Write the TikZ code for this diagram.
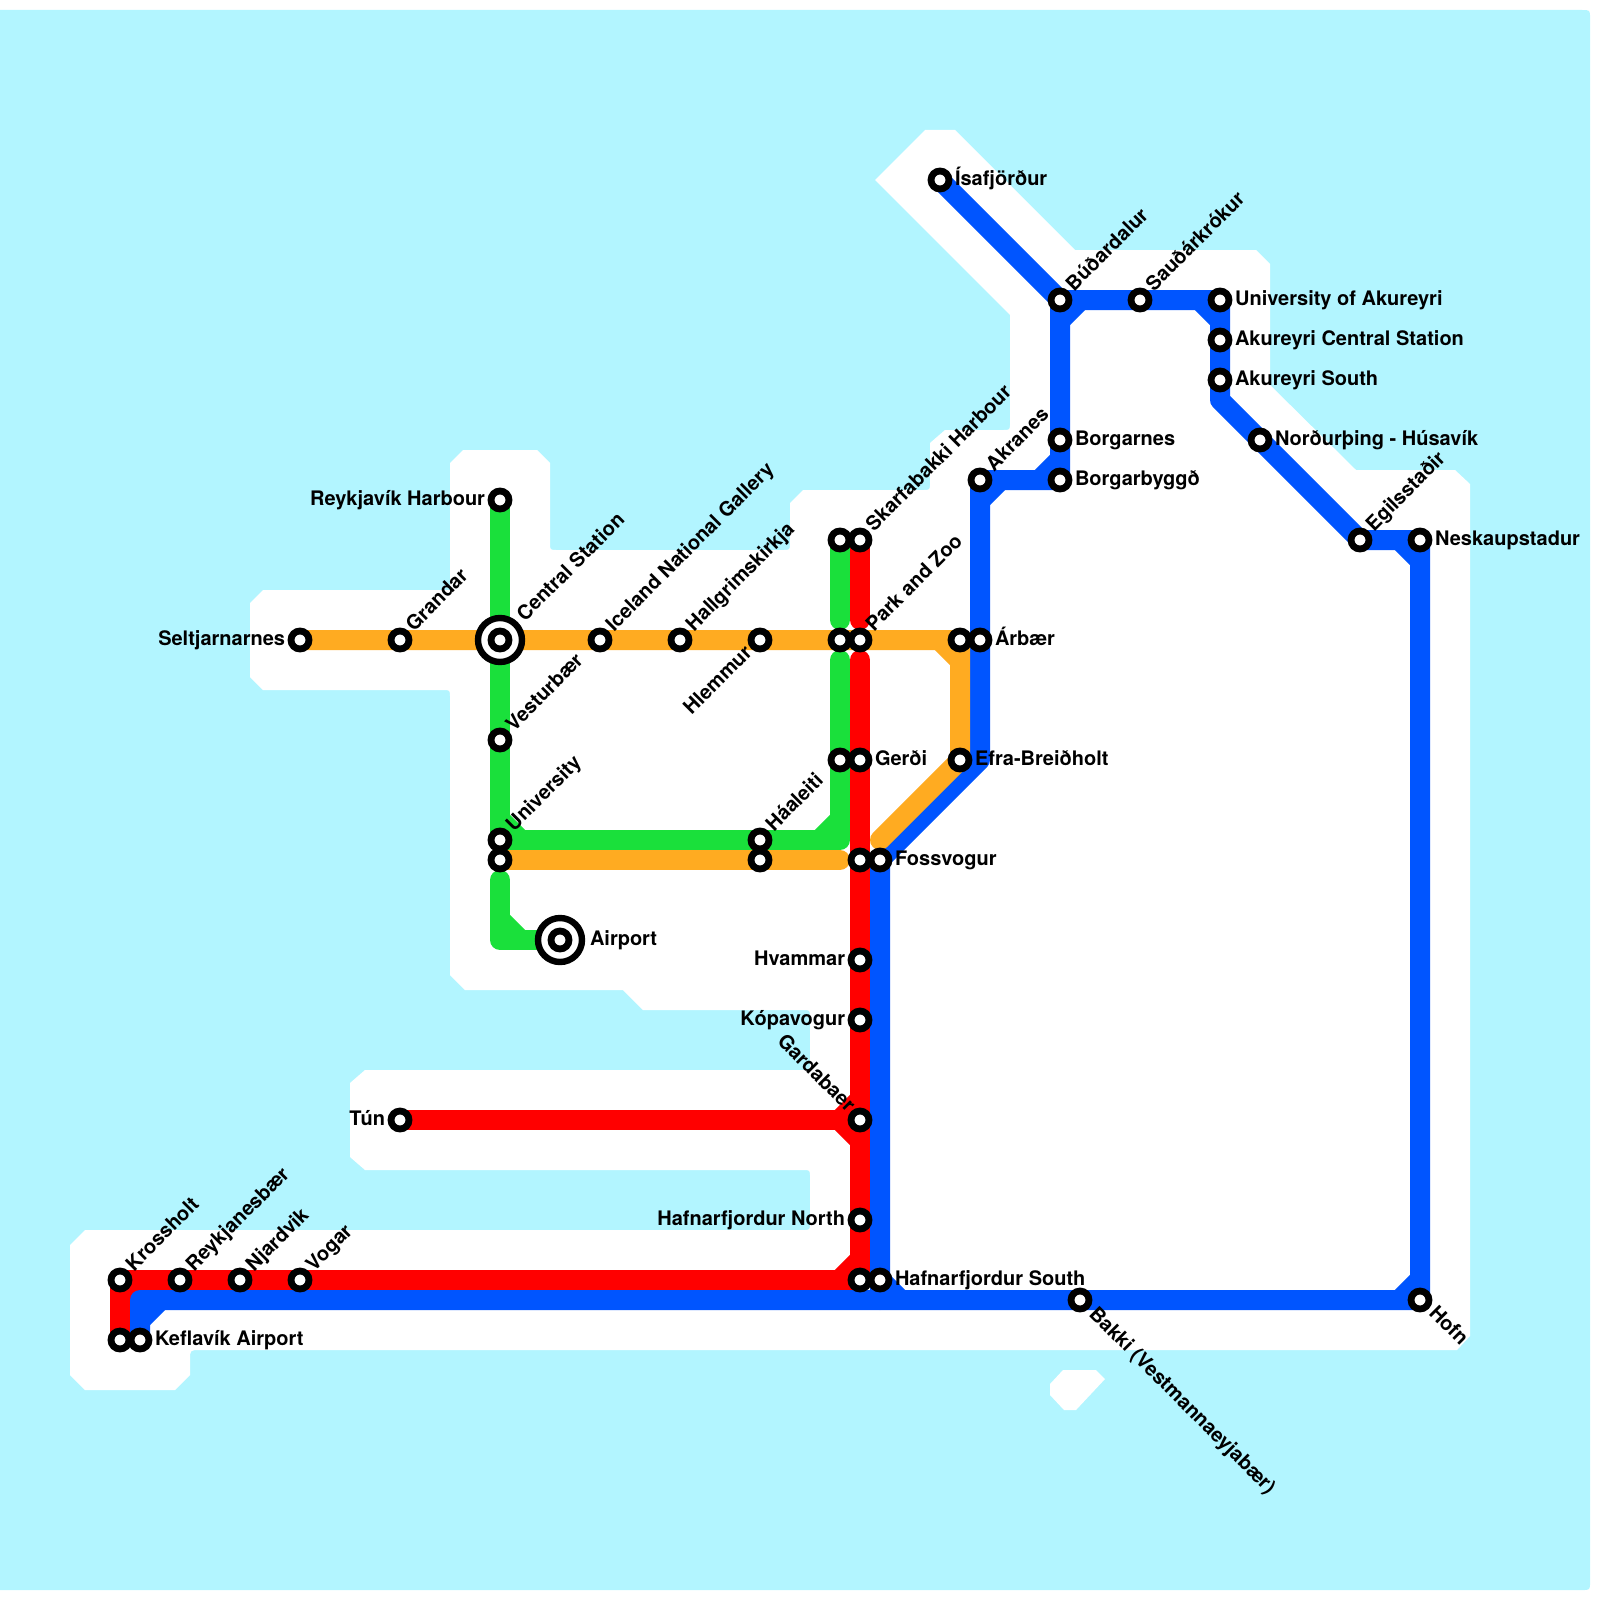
\documentclass[tikz,border=0pt]{standalone}
\usepackage{fontspec}
\setmainfont{TeX Gyre Heros}
\usetikzlibrary{calc}
\definecolor{sea}{HTML}{B2F5FF}
\definecolor{lred}{HTML}{FF0000}
\definecolor{lblue}{HTML}{0055FF}
\definecolor{lgreen}{HTML}{1AE03B}
\definecolor{lorange}{HTML}{FFAB21}
\pgfdeclarelayer{base}
\pgfdeclarelayer{lines}
\pgfsetlayers{base,lines,main}
\newcommand{\chord}[4]{\draw[metro,#4,line cap=butt] ($(#2)!10.5pt!(#1)$) -- ($(#2)!10.5pt!(#3)$);}
\newcommand{\cnr}[2]{.. controls (#1) .. (#2)}
\tikzset{
  metro/.style={line width=10pt,line cap=round,line join=round},
  stn/.style={circle,draw=black,fill=white,line width=3.4pt,minimum size=9pt,inner sep=0pt,outer sep=0pt},
  hub/.style={circle,draw=black,fill=white,line width=3.2pt,minimum size=22pt,inner sep=0pt,outer sep=0pt},
  lab/.style={font=\bfseries\fontsize{10}{12}\selectfont,inner sep=0pt,outer sep=0pt,text=black},
  labE/.style={lab,anchor=base west},
  labW/.style={lab,anchor=base east},
  labNE/.style={lab,anchor=base west,rotate=45},
  labSE/.style={lab,anchor=base west,rotate=-45},
  labNW/.style={lab,anchor=base east,rotate=-45},
  labSW/.style={lab,anchor=base east,rotate=45},
}
\begin{document}
\begin{tikzpicture}[x=0.5pt,y=-0.5pt]
\useasboundingbox (0,0) rectangle (1600,1600);
% interchange rings
\node[hub] (hubcen) at (500,640) {};
\node[hub] (hubair) at (560,940) {};
% stations
\foreach \n/\x/\y in {
  kro/120/1280,rey/180/1280,nja/240/1280,vog/300/1280,
  kefa/120/1340,kefb/140/1340,
  haf/860/1280,hafs/880/1280,bak/1080/1300,hof/1420/1300,
  nes/1420/540,egi/1360/540,nor/1260/440,
  aks/1220/380,akc/1220/340,aku/1220/300,sau/1140/300,bud/1060/300,isa/940/180,
  bgn/1060/440,bgb/1060/480,akr/980/480,
  arb/980/640,arbw/960/640,efr/960/760,
  fosw/860/860,fos/880/860,gerw/840/760,ger/860/760,
  parw/840/640,par/860/640,skaw/840/540,ska/860/540,
  hle/760/640,hal/680/640,ice/600/640,cen/500/640,gra/400/640,sel/300/640,
  har/500/500,ves/500/740,uni/500/840,unis/500/860,
  haa/760/840,haas/760/860,air/560/940,
  hva/860/960,kop/860/1020,gar/860/1120,hfn/860/1220,tun/400/1120}
  {\node[stn] (\n) at (\x,\y) {};}
% labels
\foreach \n/\t in {
  kefb/{Keflavík Airport},hafs/{Hafnarfjordur South},fos/{Fossvogur},ger/{Gerði},
  efr/{Efra-Breiðholt},arb/{Árbær},bgn/{Borgarnes},bgb/{Borgarbyggð},
  aku/{University of Akureyri},akc/{Akureyri Central Station},aks/{Akureyri South},
  nor/{Norðurþing - Húsavík},nes/{Neskaupstadur},isa/{Ísafjörður}}
  {\node[labE] (l\n) at ($(\n.center)+(15,5)$) {\t};}
\node[labE] (lair) at ($(air.center)+(30,5)$) {Airport};
\foreach \n/\t in {
  har/{Reykjavík Harbour},sel/{Seltjarnarnes},tun/{Tún},hva/{Hvammar},
  kop/{Kópavogur},hfn/{Hafnarfjordur North}}
  {\node[labW] (l\n) at ($(\n.center)+(-15,5)$) {\t};}
\foreach \n/\t in {
  kro/{Krossholt},rey/{Reykjanesbær},nja/{Njardvik},vog/{Vogar},gra/{Grandar},
  ice/{Iceland National Gallery},hal/{Hallgrimskirkja},ves/{Vesturbær},uni/{University},
  haa/{Háaleiti},ska/{Skarfabakki Harbour},par/{Park and Zoo},akr/{Akranes},
  bud/{Búðardalur},sau/{Sauðárkrókur},egi/{Egilsstaðir}}
  {\node[labNE] (l\n) at ($(\n.center)+(14,-8)$) {\t};}
\node[labNE] (lcen) at ($(cen.center)+(25,-18)$) {Central Station};
\node[labSE] (lbak) at ($(bak.center)+(8,15)$) {Bakki (Vestmannaeyjabær)};
\node[labSE] (lhof) at ($(hof.center)+(8,14)$) {Hofn};
\node[labNW] (lgar) at ($(gar.center)+(-13,-7)$) {Gardabaer};
\node[labSW] (lhle) at ($(hle.center)+(-7,14)$) {Hlemmur};
% corners
\coordinate (cgreenA) at (840,840);
\coordinate (cgreenB) at (500,940);
\coordinate (cgreenT) at (840,620);
\coordinate (cgreenU) at (840,660);
\coordinate (cgreenV) at (500,880);
\coordinate (credT) at (860,620);
\coordinate (credU) at (860,660);
\coordinate (cblueA) at (1220,400);
\coordinate (cblueB) at (1420,1300);
\coordinate (cblueC) at (140,1300);
\coordinate (cblueD) at (980,760);
\coordinate (cblueE) at (880,1300);
\coordinate (corangeB) at (880,840);
\coordinate (corangeC) at (840,860);
\begin{pgfonlayer}{base}
\fill[sea] (0,10) -- (1582,10) \cnr{1590,10}{1590,18} -- (1590,1582) \cnr{1590,1590}{1582,1590} -- (0,1590) -- cycle;
\fill[white] (925,130) -- (955,130) -- (1075,250) -- (1256,250) -- (1270,264) -- (1270,385) -- (1356,470) -- (1455,470) -- (1470,484) -- (1470,1336) -- (1457,1350)
  -- (200,1350) \cnr{190,1350}{190,1360} -- (190,1375) -- (175,1390) -- (85,1390) -- (70,1375) -- (70,1245) -- (85,1230)
  -- (803,1230) \cnr{810,1230}{810,1223} -- (810,1177) \cnr{810,1170}{803,1170} -- (365,1170) -- (350,1157) -- (350,1083) -- (365,1070)
  -- (803,1070) \cnr{810,1070}{810,1063} -- (810,1017) \cnr{810,1010}{803,1010} -- (643,1010) -- (623,990) -- (465,990) -- (450,975)
  -- (450,697) \cnr{450,690}{443,690} -- (263,690) -- (250,677) -- (250,603) -- (263,590) -- (450,590) -- (450,463) -- (463,450) -- (537,450) -- (550,463)
  -- (550,543) \cnr{550,550}{557,550} -- (783,550) \cnr{790,550}{790,543} -- (790,503) -- (803,490)
  -- (923,490) \cnr{930,490}{930,483} -- (930,443) -- (945,430) -- (1003,430) \cnr{1010,430}{1010,423} -- (1010,315) -- (875,180) -- cycle;
\fill[white] (1063,1370) -- (1096,1370) -- (1105,1379) -- (1076,1410) -- (1064,1410) -- (1050,1395) -- (1050,1384) -- cycle;
\end{pgfonlayer}
\begin{pgfonlayer}{lines}
% green
\draw[metro,lgreen] (har.center) -- (cen.center) -- (uni.center) -- (haa.center) -- (cgreenA) -- (gerw.center) -- (cgreenU);
\chord{uni.center}{cgreenA}{gerw.center}{lgreen}
\chord{cen.center}{uni.center}{haa.center}{lgreen}
\draw[metro,lgreen] (skaw.center) -- (cgreenT);
\draw[metro,lgreen] (cgreenV) -- (cgreenB) -- (air.center);
\chord{unis.center}{cgreenB}{air.center}{lgreen}
% red
\draw[metro,lred] (ska.center) -- (credT);
\draw[metro,lred] (credU) -- (ger.center) -- (fosw.center) -- (hva.center) -- (kop.center) -- (gar.center) -- (hfn.center) -- (haf.center) -- (vog.center) -- (nja.center) -- (rey.center) -- (kro.center) -- (kefa.center);
\draw[metro,lred] (tun.center) -- (gar.center);
\chord{tun.center}{gar.center}{hfn.center}{lred}
\chord{tun.center}{gar.center}{fosw.center}{lred}
\chord{hfn.center}{haf.center}{vog.center}{lred}
\chord{rey.center}{kro.center}{kefa.center}{lred}
% blue
\draw[metro,lblue] (isa.center) -- (bud.center) -- (sau.center) -- (aku.center) -- (akc.center) -- (aks.center) -- (cblueA) -- (nor.center) -- (egi.center) -- (nes.center) -- (cblueB) -- (bak.center) -- (cblueE) -- (cblueC) -- (kefb.center);
\draw[metro,lblue] (bud.center) -- (bgn.center) -- (bgb.center) -- (akr.center) -- (arb.center) -- (cblueD) -- (fos.center) -- (hafs.center) -- (cblueE);
\chord{bgn.center}{bud.center}{sau.center}{lblue}
\chord{sau.center}{aku.center}{akc.center}{lblue}
\chord{egi.center}{nes.center}{cblueB}{lblue}
\chord{nes.center}{cblueB}{bak.center}{lblue}
\chord{bak.center}{cblueC}{kefb.center}{lblue}
\chord{hafs.center}{cblueE}{bak.center}{lblue}
\chord{bgn.center}{bgb.center}{akr.center}{lblue}
\chord{bgb.center}{akr.center}{arb.center}{lblue}
% orange
\draw[metro,lorange] (sel.center) -- (gra.center) -- (cen.center) -- (ice.center) -- (hal.center) -- (hle.center) -- (parw.center) -- (par.center) -- (arbw.center) -- (efr.center) -- (corangeB);
\chord{par.center}{arbw.center}{efr.center}{lorange}
\draw[metro,lorange] (unis.center) -- (haas.center) -- (corangeC);
\end{pgfonlayer}
\end{tikzpicture}
\end{document}
